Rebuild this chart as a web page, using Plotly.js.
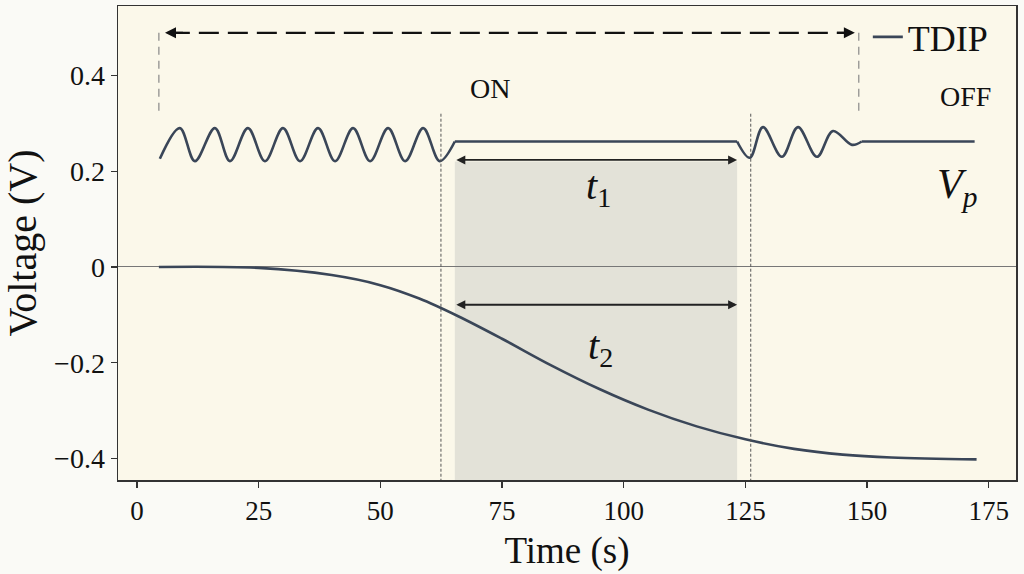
<!DOCTYPE html>
<html>
<head>
<meta charset="utf-8">
<script src="https://cdn.plot.ly/plotly-3.0.1.min.js"></script>
<style>
  html, body { margin: 0; padding: 0; background: #fafaf6; }
  #chart { width: 1024px; height: 574px; }
</style>
</head>
<body>
<div id="chart"></div>
<script>
// Polarization-voltage oscillation (V_p): extrema and plateau points
const waveTime = [4.7, 8.8, 11.9, 16.0, 19.1, 22.8, 26.3, 30.0, 33.5, 37.2, 40.7, 44.4, 47.9, 51.6, 55.1, 58.8, 62.2, 65.3, 123.3, 125.9, 128.6, 132.5, 135.8, 139.7, 143.0, 146.9, 148.9, 172.1];
const waveVolt = [0.226, 0.290, 0.221, 0.290, 0.221, 0.290, 0.221, 0.290, 0.221, 0.290, 0.221, 0.290, 0.221, 0.290, 0.221, 0.290, 0.221, 0.262, 0.262, 0.228, 0.292, 0.230, 0.292, 0.230, 0.284, 0.255, 0.262, 0.262];

// TDIP decay curve
const tdipTime = [4.5, 25, 40, 50, 58, 66, 75, 85, 95, 105, 115, 125, 135, 145, 155, 172.5];
const tdipVolt = [0, -0.002, -0.017, -0.038, -0.066, -0.103, -0.150, -0.205, -0.255, -0.298, -0.333, -0.360, -0.380, -0.392, -0.398, -0.402];

// Annotation positions (data units)
const onOffSpan = [5.75, 147.5];
const onOffY = 0.489;
const spanTop = 0.32;
const switchTimes = [62.45, 126.1];
const shadeSpan = [65.3, 123.3];
const shadeTop = 0.22;
const t1Y = 0.2235;
const t2Y = -0.079;

const xTicks = [0, 25, 50, 75, 100, 125, 150, 175];
const yTicks = [-0.4, -0.2, 0, 0.2, 0.4];
const yTickText = ['\u22120.4', '\u22120.2', '0', '0.2', '0.4'];

const lineColor = '#3a4658';
const serif = 'Liberation Serif, Times New Roman, serif';

// split the V_p record into oscillating (smoothed) and plateau (straight) pieces
const pieces = [[0, 17, 'spline'], [17, 18, 'linear'], [18, 26, 'spline'], [26, 27, 'linear']];
const traces = pieces.map(p => ({
  x: waveTime.slice(p[0], p[1] + 1), y: waveVolt.slice(p[0], p[1] + 1),
  type: 'scatter', mode: 'lines',
  line: {color: lineColor, width: 2.6, shape: p[2], smoothing: 1},
  name: 'TDIP', legendgroup: 'tdip', showlegend: false, hoverinfo: 'skip'
}));
traces.push({
  x: tdipTime, y: tdipVolt, type: 'scatter', mode: 'lines',
  line: {color: lineColor, width: 2.6, shape: 'spline', smoothing: 1},
  name: 'TDIP', legendgroup: 'tdip', showlegend: true
});

const shapes = [
  {type: 'rect', xref: 'x', yref: 'y', x0: shadeSpan[0], x1: shadeSpan[1], y0: -0.445, y1: shadeTop,
   fillcolor: '#e3e2d8', line: {width: 0}, layer: 'below'},
  {type: 'line', xref: 'x', yref: 'y', x0: onOffSpan[0] + 1, x1: onOffSpan[1] - 1, y0: onOffY, y1: onOffY,
   line: {color: '#111', width: 2.2, dash: '20px,9px'}},
  {type: 'line', xref: 'x', yref: 'y', x0: 4.5, x1: 4.5, y0: onOffY, y1: spanTop,
   line: {color: '#888', width: 1.2, dash: '8px,6px'}},
  {type: 'line', xref: 'x', yref: 'y', x0: 148.3, x1: 148.3, y0: onOffY, y1: spanTop,
   line: {color: '#888', width: 1.2, dash: '8px,6px'}},
  {type: 'line', xref: 'x', yref: 'y', x0: switchTimes[0], x1: switchTimes[0], y0: spanTop, y1: -0.445,
   line: {color: '#555', width: 1, dash: '3px,2px'}},
  {type: 'line', xref: 'x', yref: 'y', x0: switchTimes[1], x1: switchTimes[1], y0: spanTop, y1: -0.445,
   line: {color: '#555', width: 1, dash: '3px,2px'}}
];

const arrowBase = {xref: 'x', yref: 'y', axref: 'x', ayref: 'y', text: '', showarrow: true,
  arrowhead: 2, arrowsize: 1, arrowwidth: 1.8, arrowcolor: '#222', standoff: 0, startstandoff: 0};

const annotations = [
  Object.assign({}, arrowBase, {x: onOffSpan[0], y: onOffY, ax: onOffSpan[0] + 4, ay: onOffY, arrowcolor: '#111', arrowwidth: 2.2}),
  Object.assign({}, arrowBase, {x: onOffSpan[1], y: onOffY, ax: onOffSpan[1] - 4, ay: onOffY, arrowcolor: '#111', arrowwidth: 2.2}),
  Object.assign({}, arrowBase, {x: shadeSpan[1], y: t1Y, ax: shadeSpan[0], ay: t1Y, arrowside: 'end+start'}),
  Object.assign({}, arrowBase, {x: shadeSpan[1], y: t2Y, ax: shadeSpan[0], ay: t2Y, arrowside: 'end+start'}),
  {xref: 'x', yref: 'y', x: 72.5, y: 0.372, text: 'ON', showarrow: false, font: {family: serif, size: 28, color: '#111'}},
  {xref: 'x', yref: 'y', x: 170.3, y: 0.357, text: 'OFF', showarrow: false, font: {family: serif, size: 28, color: '#111'}},
  {xref: 'x', yref: 'y', x: 94.8, y: 0.165, text: '<i>t</i><sub>1</sub>', showarrow: false, font: {family: serif, size: 40, color: '#111'}},
  {xref: 'x', yref: 'y', x: 95.2, y: -0.17, text: '<i>t</i><sub>2</sub>', showarrow: false, font: {family: serif, size: 40, color: '#111'}},
  {xref: 'x', yref: 'y', x: 168.5, y: 0.168, text: '<i>V</i><sub><i>p</i></sub>', showarrow: false, font: {family: serif, size: 42, color: '#111'}}
];

const layout = {
  width: 1024, height: 574,
  margin: {l: 118, r: 8, t: 6, b: 94},
  paper_bgcolor: '#fafaf6',
  plot_bgcolor: '#fbf8ea',
  font: {family: serif, color: '#111'},
  showlegend: true,
  legend: {x: 0.835, y: 0.998, xanchor: 'left', yanchor: 'top', bgcolor: 'rgba(0,0,0,0)',
           font: {family: serif, size: 36, color: '#111'}, itemwidth: 30},
  xaxis: {
    range: [-3.9, 180.6], tickvals: xTicks, ticktext: xTicks.map(String),
    showgrid: false, zeroline: false, showline: true, mirror: true, linecolor: '#333', linewidth: 1.5,
    ticks: 'outside', ticklen: 6, tickcolor: '#333', tickwidth: 1.2,
    tickfont: {family: serif, size: 27, color: '#111'},
    title: {text: 'Time (s)', font: {family: serif, size: 37, color: '#111'}, standoff: 12}
  },
  yaxis: {
    range: [-0.445, 0.545], tickvals: yTicks, ticktext: yTickText,
    showgrid: false, zeroline: true, zerolinecolor: '#777', zerolinewidth: 1,
    showline: true, mirror: true, linecolor: '#333', linewidth: 1.5,
    ticks: 'outside', ticklen: 6, tickcolor: '#333', tickwidth: 1.2,
    tickfont: {family: serif, size: 28, color: '#111'},
    title: {text: 'Voltage (V)', font: {family: serif, size: 40, color: '#111'}, standoff: 8}
  },
  shapes: shapes,
  annotations: annotations
};

Plotly.newPlot('chart', traces, layout, {displayModeBar: false, staticPlot: true});
</script>
</body>
</html>
